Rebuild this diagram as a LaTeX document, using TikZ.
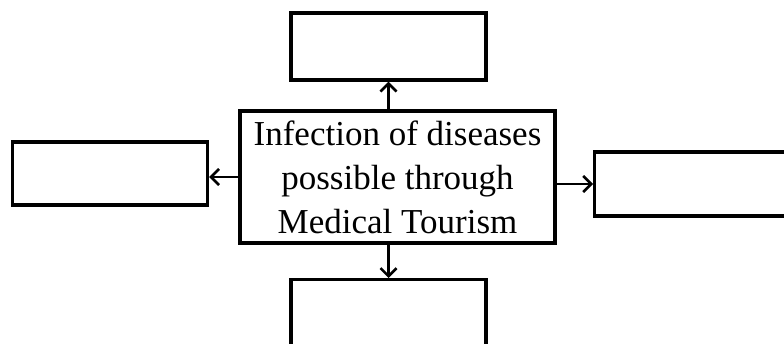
\documentclass[tikz,border=0pt]{standalone}
\usepackage{fontspec}
\setmainfont{Liberation Serif}
\usetikzlibrary{arrows.meta}
\begin{document}
\begin{tikzpicture}[x=1pt,y=1pt,
  emptybox/.style={draw,line width=3.4pt,rectangle,inner sep=0pt},
  conn/.style={line width=2.6pt,-{Straight Barb[length=8pt,width=16pt,line width=2.6pt]}}]
\useasboundingbox (0,0) rectangle (784,344);
\clip (0,0) rectangle (784,344);
\node[emptybox,minimum width=195pt,minimum height=67pt] (top) at (388.5,297.5) {};
\node[emptybox,minimum width=195pt,minimum height=63pt] (left) at (110,170.5) {};
\node[emptybox,minimum width=210pt,minimum height=64pt,anchor=west] (right) at (593,160) {};
\node[emptybox,minimum width=195pt,minimum height=90pt,anchor=north] (bottom) at (388.5,66) {};
\node[draw,line width=3.4pt,minimum width=315pt,minimum height=132pt,align=center,
  font=\fontsize{35}{44}\selectfont,inner sep=0pt] (center) at (397.5,167)
  {Infection of diseases\\possible through\\Medical Tourism};
\draw[conn] (center.north -| top.south) -- (top.south);
\draw[conn] (center.south -| bottom.north) -- (bottom.north);
\draw[conn] (center.west) -- (center.west -| left.east);
\draw[conn] (center.east |- right.west) -- (right.west);
\end{tikzpicture}
\end{document}
